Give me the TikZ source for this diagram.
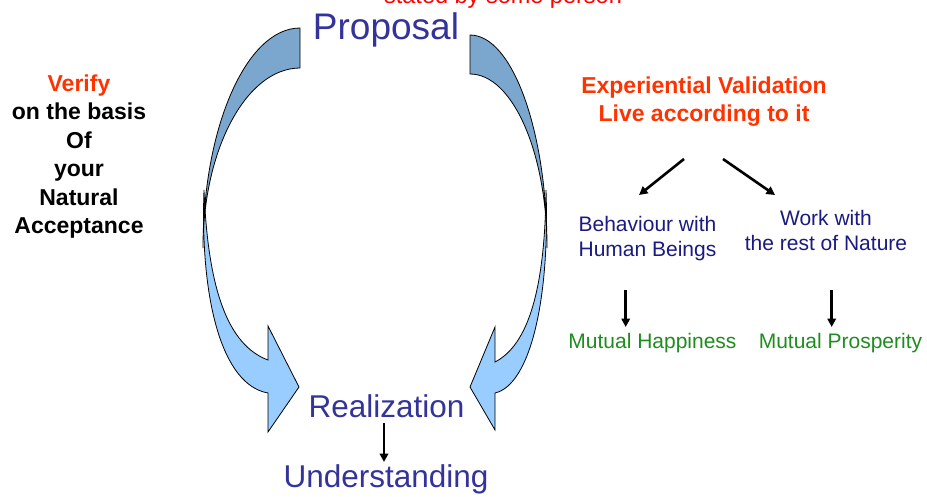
\documentclass[tikz,border=0pt]{standalone}
\usepackage{fontspec}
\setmainfont{Liberation Sans}
\usetikzlibrary{arrows.meta}
\definecolor{propblue}{HTML}{333399}
\definecolor{navy}{HTML}{1A1A80}
\definecolor{orangered}{HTML}{FF3300}
\definecolor{redtext}{HTML}{FF0000}
\definecolor{greentext}{HTML}{1E8C1E}
\definecolor{backblue}{HTML}{7BA7CF}
\definecolor{frontblue}{HTML}{99CCFF}

\begin{document}
\begin{tikzpicture}[x=1pt,y=-1pt,
  every node/.style={inner sep=0pt, outer sep=0pt},
  big/.style={font=\fontsize{31.5}{36}\selectfont, text=propblue, anchor=base},
  side/.style={font=\bfseries\fontsize{23}{28.5}\selectfont, align=center, anchor=base},
  branch/.style={font=\fontsize{21}{25}\selectfont, text=navy, align=center, anchor=base},
  result/.style={font=\fontsize{21}{25}\selectfont, text=greentext, anchor=base},
  link/.style={draw=black, line width=2.6pt, -{Triangle[length=8.5pt,width=8.5pt]}},
  back/.style={fill=backblue, draw=black, line width=0.8pt},
  front/.style={fill=frontblue, draw=black, line width=0.8pt}]
\useasboundingbox (0,0) rectangle (927,496);

% left curved arrow: front band with head, then back band
\path[front] (204,190) .. controls (200,300) and (222,385) .. (268,393)
  -- (268,432) -- (299,387) -- (268,326) -- (268,360)
  .. controls (228,345) and (208,290) .. (204,190) -- cycle;
\path[back] (300,28) .. controls (246.4,28) and (203,127.4) .. (203,248)
  .. controls (203,149.5) and (246.4,68) .. (300,68) -- cycle;

% right curved arrow
\path[front] (546,190) .. controls (550,300) and (530,385) .. (495,393)
  -- (495,430) -- (470,387) -- (495,327) -- (495,362)
  .. controls (528,345) and (545,290) .. (546,190) -- cycle;
\path[back] (470,35) .. controls (512.5,35) and (547,131.3) .. (547,248)
  .. controls (547,152.8) and (512.5,74) .. (470,74) -- cycle;

% centre column
\node[font=\fontsize{23.5}{28}\selectfont, text=redtext, anchor=base] (stated) at (503,3) {stated by some person};
\node[big, font=\fontsize{37}{44}\selectfont] (prop) at (386,39) {Proposal};
\node[big] (real) at (386.5,417) {Realization};
\node[big] (und) at (386,487) {Understanding};
\coordinate (ra) at (384,423);
\coordinate (ub) at (384,462);
\draw[link] (ra) -- (ub);

% left block (base anchor sits on the last line)
\node[side] (verify) at (79,233.5) {\textcolor{orangered}{Verify}\\on the basis\\Of\\your\\Natural\\Acceptance};

% right block
\node[side, text=orangered] (exp) at (704,121.5) {Experiential Validation\\Live according to it};
\node[branch] (beh) at (647.5,256.7) {Behaviour with\\Human Beings};
\node[branch] (work) at (826,250) {Work with\\the rest of Nature};
\node[result] (happy) at (652.5,348.3) {Mutual Happiness};
\node[result] (prosp) at (840.5,348.3) {Mutual Prosperity};

\coordinate (e1) at (684,159);
\coordinate (e2) at (723,159);
\coordinate (b1) at (639,195);
\coordinate (b2) at (775,195);
\draw[link] (e1) -- (b1);
\draw[link] (e2) -- (b2);
\coordinate (h1) at (625.7,290);
\coordinate (h2) at (625.7,327);
\coordinate (p1) at (831.7,290);
\coordinate (p2) at (831.7,327);
\draw[link] (h1) -- (h2);
\draw[link] (p1) -- (p2);
\end{tikzpicture}
\end{document}
